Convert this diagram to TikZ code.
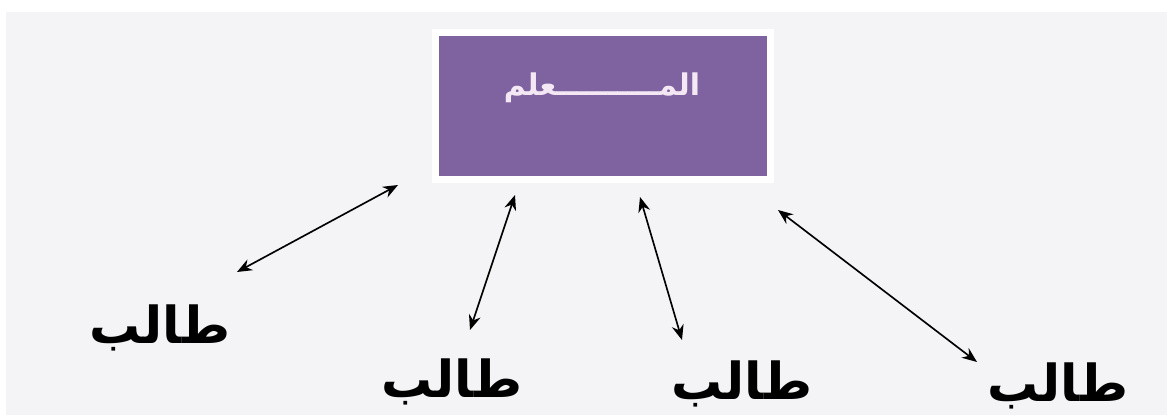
\documentclass[tikz,border=0pt]{standalone}
\usepackage{fontspec}
\usepackage{tikz}
\usetikzlibrary{arrows.meta,shadows}
\TeXXeTstate=1
\newfontfamily\arabicfont[Script=Arabic]{DejaVu Sans}
\definecolor{pagegrey}{HTML}{F4F4F6}
\definecolor{boxpurple}{HTML}{7F62A0}
\definecolor{labelpink}{HTML}{F5E8F5}
\tikzset{
  boxteacher/.style={fill=boxpurple,draw=white,line width=1.4mm,minimum width=67mm,minimum height=29.5mm,
    drop shadow={shadow xshift=0.3mm,shadow yshift=-0.5mm,opacity=0.25}},
  student/.style={font=\arabicfont\bfseries\fontsize{29}{34}\selectfont},
  biarrow/.style={{Stealth[length=3mm,width=2.4mm]}-{Stealth[length=3mm,width=2.4mm]},line width=0.33mm},
}

\begin{document}
\begin{tikzpicture}[x=0.2mm,y=0.2mm]
  \useasboundingbox (0,0) rectangle (1167,-415);
  \fill[white] (0,0) rectangle (1167,-415);
  \fill[pagegrey] (6,-12) rectangle (1167,-415);
  \clip (0,0) rectangle (1167,-415);
  % teacher box
  \node[boxteacher] (teacher) at (603,-106) {};
  \node[font=\arabicfont\bfseries\fontsize{17}{20}\selectfont,text=labelpink] (tname) at (602,-88)
    {\beginR المــــــــــعلم\endR};
  % students
  \node[student] (st1) at (160,-328) {\beginR طالب\endR};
  \node[student] (st2) at (452,-382) {\beginR طالب\endR};
  \node[student] (st3) at (742,-384) {\beginR طالب\endR};
  \node[student] (st4) at (1058,-386) {\beginR طالب\endR};
  % arrow ends
  \coordinate (a1) at (237,-272); \coordinate (b1) at (398,-185);
  \coordinate (a2) at (470,-330); \coordinate (b2) at (515,-195);
  \coordinate (a3) at (682,-340); \coordinate (b3) at (640,-197);
  \coordinate (a4) at (977,-362); \coordinate (b4) at (778,-210);
  \draw[biarrow] (a1) -- (b1);
  \draw[biarrow] (a2) -- (b2);
  \draw[biarrow] (a3) -- (b3);
  \draw[biarrow] (a4) -- (b4);
\end{tikzpicture}
\end{document}
